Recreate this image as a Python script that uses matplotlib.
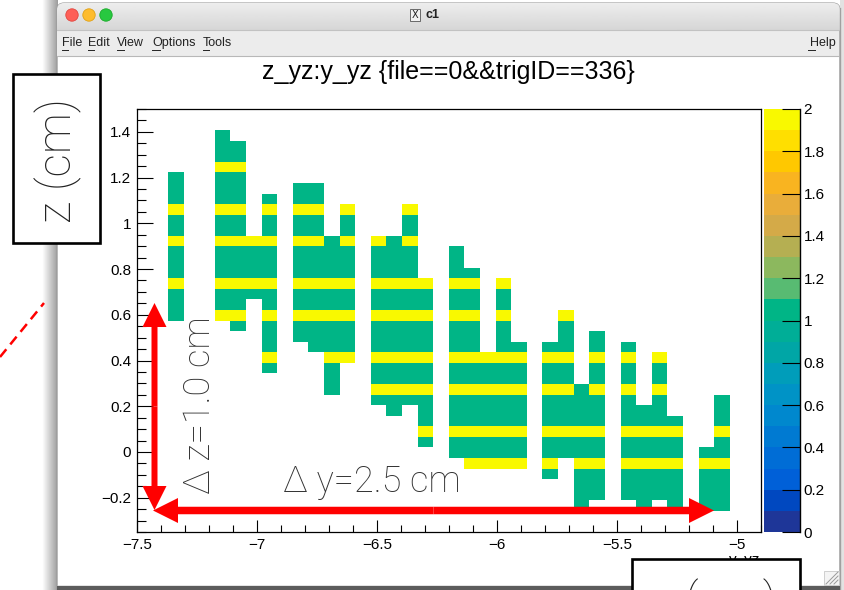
import numpy as np
import matplotlib
matplotlib.use("Agg")
import matplotlib.pyplot as plt
from matplotlib.colors import ListedColormap, BoundaryNorm
from matplotlib.patches import Rectangle, FancyArrow, Circle, FancyBboxPatch
from matplotlib.ticker import MultipleLocator, FuncFormatter

# z_yz:y_yz {file==0&&trigID==336}, 40 x 40 bins
y_edges = np.linspace(-7.5, -4.9, 41)
z_edges = np.linspace(-0.35, 1.5, 41)

# bin contents, top z row first; '.' = 0, '1' = 1 entry, '2' = 2 entries
count_rows = [
    "",
    "",
    ".....1",
    ".....11",
    ".....11",
    ".....22",
    "..1..11",
    "..1..11...11",
    "..1..11.1.11",
    "..2..22.2.22.2...2",
    "..1..11.1.11.1...1",
    "..1..11.1.11.1...1",
    "..2..2222.2212.212",
    "..1..1111.1111.111..1",
    "..1..1111.1111.111..1",
    "..1..1111.1111.111..11",
    "..2..2222.2222.2222.22.2",
    "..1..1111.1111.1111.11.1",
    "..1..11.1.1111.1111.11.1",
    "..1..22.2.2222.2222.22.2...2",
    "......1.1.1111.1111.11.1...1",
    "........1.1111.1111.11.1...1.1",
    "........1..111.1111.11.11.11.1.1",
    "........2...22.2222.22222.22.2.2.2",
    "........1...1..1111.11111.11.1.1.1",
    "............1..1111.11111.11.1.1.1",
    "............1..2222.22222.2212.2.2",
    "...............1111.11111.1111.1.1...1",
    "................1.1.11111.1111.111...1",
    "..................1.11111.1111.1111..1",
    "..................2.22222.2222.2222..2",
    "..................1.11111.1111.1111..1",
    "....................11111.1111.1111.11",
    ".....................2222.2.22.2222.22",
    "..........................1.11.1111.11",
    "............................11.1111.11",
    "............................11.1111.11",
    "............................1...1.1.11",
    "",
    "",
]

x_ticks = [-7.5, -7, -6.5, -6, -5.5, -5]
z_ticks = [-0.2, 0, 0.2, 0.4, 0.6, 0.8, 1, 1.2, 1.4]
levels = np.linspace(0, 2, 21)

counts = np.array([[0 if c == "." else int(c) for c in r.ljust(40, ".")[:40]]
                   for r in count_rows[::-1]], dtype=float)
counts = np.ma.masked_equal(counts, 0)

# ROOT kBird-like palette, 20 contour levels (as it looks on screen)
bird = ["#1e3698", "#0048c0", "#0060d8", "#006dd6", "#007ad2",
        "#0088ce", "#0093c6", "#009dba", "#00a6a6", "#00ae97",
        "#00b586", "#58bb72", "#8cb85e", "#b5af52", "#d4aa48",
        "#e9ad3a", "#f9b420", "#ffc800", "#ffdf00", "#f9f900"]
cmap = ListedColormap(bird)
norm = BoundaryNorm(levels, 20, clip=True)

W, H = 845.0, 590.0
fig = plt.figure(figsize=(8.45, 5.9), dpi=100)


def px_axes(x0, y0, x1, y1):
    return fig.add_axes([x0 / W, 1 - y1 / H, (x1 - x0) / W, (y1 - y0) / H])


def fmt(v, pos=None):
    if abs(v) < 1e-9:
        v = 0.0
    return ("%g" % round(v, 3)).replace("-", "\u2212")


# ---- window chrome (screenshot of the ROOT canvas) ----
bg = px_axes(0, 0, W, H)
bg.set_xlim(0, W)
bg.set_ylim(H, 0)
bg.axis("off")
bg.imshow(np.linspace(1.0, 0.62, 16)[None, :], cmap="gray", vmin=0, vmax=1,
          extent=(42, 58, H, 0), aspect="auto", zorder=0)
win = FancyBboxPatch((57, 3), 783, 620, boxstyle="round,pad=0,rounding_size=7",
                     fc="#e4e4e4", ec="#9a9a9a", lw=0.8, zorder=1)
bg.add_patch(win)
bar = bg.imshow(np.linspace(0.93, 0.84, 30)[:, None], cmap="gray", vmin=0, vmax=1,
                extent=(57, 840, 30, 3), aspect="auto", zorder=2)
bar.set_clip_path(win)
bg.add_patch(Rectangle((57.5, 30), 782, 25.5, fc="#ececec", ec="none", zorder=2))
bg.plot([57.5, 839.5], [30, 30], color="#c2c2c2", lw=0.8, zorder=3)
bg.plot([57.5, 839.5], [55.5, 55.5], color="#b8b8b8", lw=0.8, zorder=3)
bg.add_patch(Rectangle((58, 56), 781, 529, fc="white", ec="none", zorder=2))
bg.add_patch(Rectangle((840, 0), 5, H, fc="#e2e2e2", ec="none", zorder=2))
bg.plot([840, 840], [8, H], color="#a0a0a0", lw=1, zorder=3)
bg.add_patch(Rectangle((57, 585.5), 783, 5, fc="#5c5c5c", ec="none", zorder=3))
bg.add_patch(Rectangle((824, 571), 15, 14, fc="#f4f4f4", ec="#c8c8c8", lw=0.6, zorder=3))
for d in (4, 8, 12):
    bg.plot([838 - d, 838], [584, 584 - d], color="#9a9a9a", lw=0.7, zorder=4)

for cx, fc, ec in [(72, "#fe5f57", "#e2463f"), (89, "#febc2e", "#e1a116"),
                   (106, "#28c840", "#1aab29")]:
    bg.add_patch(Circle((cx, 15), 6.2, fc=fc, ec=ec, lw=0.6, zorder=4))
bg.add_patch(Rectangle((410, 9), 10, 12, fc="#f2f2f2", ec="#555555", lw=0.6, zorder=4))
bg.text(415, 15.5, "X", fontsize=7, ha="center", va="center", family="DejaVu Sans",
        color="#222222", zorder=5)
bg.text(426, 15, "c1", fontsize=9, fontweight="bold", ha="left", va="center",
        family="Liberation Sans", color="#222222", zorder=5)

menu = [("File", 62, 6), ("Edit", 88, 6), ("View", 117, 7), ("Options", 152, 8),
        ("Tools", 203, 6)]
for name, mx, uw in menu:
    bg.text(mx, 43, name, fontsize=9, ha="left", va="center", family="Liberation Sans",
            color="#222222", zorder=5)
    bg.plot([mx, mx + uw], [50, 50], color="#222222", lw=0.7, zorder=5)
bg.text(836, 43, "Help", fontsize=9, ha="right", va="center", family="Liberation Sans",
        color="#222222", zorder=5)
bg.plot([808, 815], [50, 50], color="#222222", lw=0.7, zorder=5)

bg.text(448, 72, "z_yz:y_yz {file==0&&trigID==336}", fontsize=18, ha="center",
        va="center", family="Liberation Sans", color="black", zorder=5)
# x axis title, mostly hidden behind the annotation box
bg.text(760, 564, "y_yz", fontsize=11, ha="right", va="baseline",
        family="Liberation Sans", color="black", zorder=5)

# red dashed guide outside the window
bg.plot([0, 44], [357, 303], color="red", lw=1.8, dashes=(4, 2.5), zorder=5)

# ---- the 2D histogram ----
ax = px_axes(136.7, 109, 761, 532)
ax.set_zorder(2)
mesh = ax.pcolormesh(y_edges, z_edges, counts, cmap=cmap, norm=norm,
                     antialiased=False, linewidth=0)
ax.set_xlim(y_edges[0], y_edges[-1])
ax.set_ylim(z_edges[0], z_edges[-1])
ax.set_xticks(x_ticks)
ax.set_yticks(z_ticks)
ax.xaxis.set_minor_locator(MultipleLocator(0.1))
ax.yaxis.set_minor_locator(MultipleLocator(0.05))
ax.xaxis.set_major_formatter(FuncFormatter(fmt))
ax.yaxis.set_major_formatter(FuncFormatter(fmt))
ax.tick_params(which="both", direction="in", top=False, right=False, width=0.8,
               labelsize=11, pad=4)
ax.tick_params(axis="x", which="major", length=8.5)
ax.tick_params(axis="x", which="minor", length=5)
ax.tick_params(axis="y", which="major", length=11.5)
ax.tick_params(axis="y", which="minor", length=6.5)
for lab in ax.get_xticklabels() + ax.get_yticklabels():
    lab.set_family("Liberation Sans")
for sp in ax.spines.values():
    sp.set_linewidth(0.9)

cax = px_axes(764, 109, 800, 532)
cax.set_zorder(2)
cb = fig.colorbar(mesh, cax=cax, ticks=np.arange(0, 2.01, 0.2))
cb.outline.set_visible(False)
cb.minorticks_off()
cax.yaxis.set_major_formatter(FuncFormatter(fmt))
cax.tick_params(direction="in", length=13, width=0.8, labelsize=11, pad=2.5,
                right=True, left=False)
for lab in cax.get_yticklabels():
    lab.set_family("Liberation Sans")
cax.plot([1, 1], [0, 1], transform=cax.transAxes, color="black", lw=1, clip_on=False)

# ---- annotations drawn on top ----
top = px_axes(0, 0, W, H)
top.set_zorder(5)
top.patch.set_alpha(0)
top.set_xlim(0, W)
top.set_ylim(H, 0)
top.axis("off")

light = dict(family=["Roboto", "DejaVu Sans"], fontweight="light")

top.add_patch(Rectangle((13.5, 74), 86.5, 168.5, fc="white", ec="black", lw=1.9))
top.text(58, 161, "z (cm)", rotation=90, fontsize=33, ha="center", va="center",
         color="#222222", **light)
top.add_patch(Rectangle((632, 558.5), 168, 60, fc="white", ec="black", lw=1.9,
                        clip_on=False))
top.text(777, 615, "y (cm)", fontsize=33, ha="right", va="baseline",
         color="#222222", **light)

arrow_kw = dict(fc="red", ec="none", length_includes_head=True, shape="full")
vx, vtop, vbot = 154.5, 303, 510
vmid = 0.5 * (vtop + vbot)
top.add_patch(FancyArrow(vx, vmid, 0, vtop - vmid, width=6, head_width=24,
                         head_length=24, **arrow_kw))
top.add_patch(FancyArrow(vx, vmid, 0, vbot - vmid, width=6, head_width=24,
                         head_length=24, **arrow_kw))
hy, hl, hr = 510.5, 153, 714
hmid = 0.5 * (hl + hr)
top.add_patch(FancyArrow(hmid, hy, hl - hmid, 0, width=7.5, head_width=25,
                         head_length=25, **arrow_kw))
top.add_patch(FancyArrow(hmid, hy, hr - hmid, 0, width=7.5, head_width=25,
                         head_length=25, **arrow_kw))

top.text(200, 405, "\u0394 z=1.0 cm", rotation=90, fontsize=26, ha="center",
         va="center", color="#333333", **light)
top.text(372, 482, "\u0394 y=2.5 cm", fontsize=26, ha="center", va="center",
         color="#333333", **light)

fig.savefig("out.png", dpi=100)
